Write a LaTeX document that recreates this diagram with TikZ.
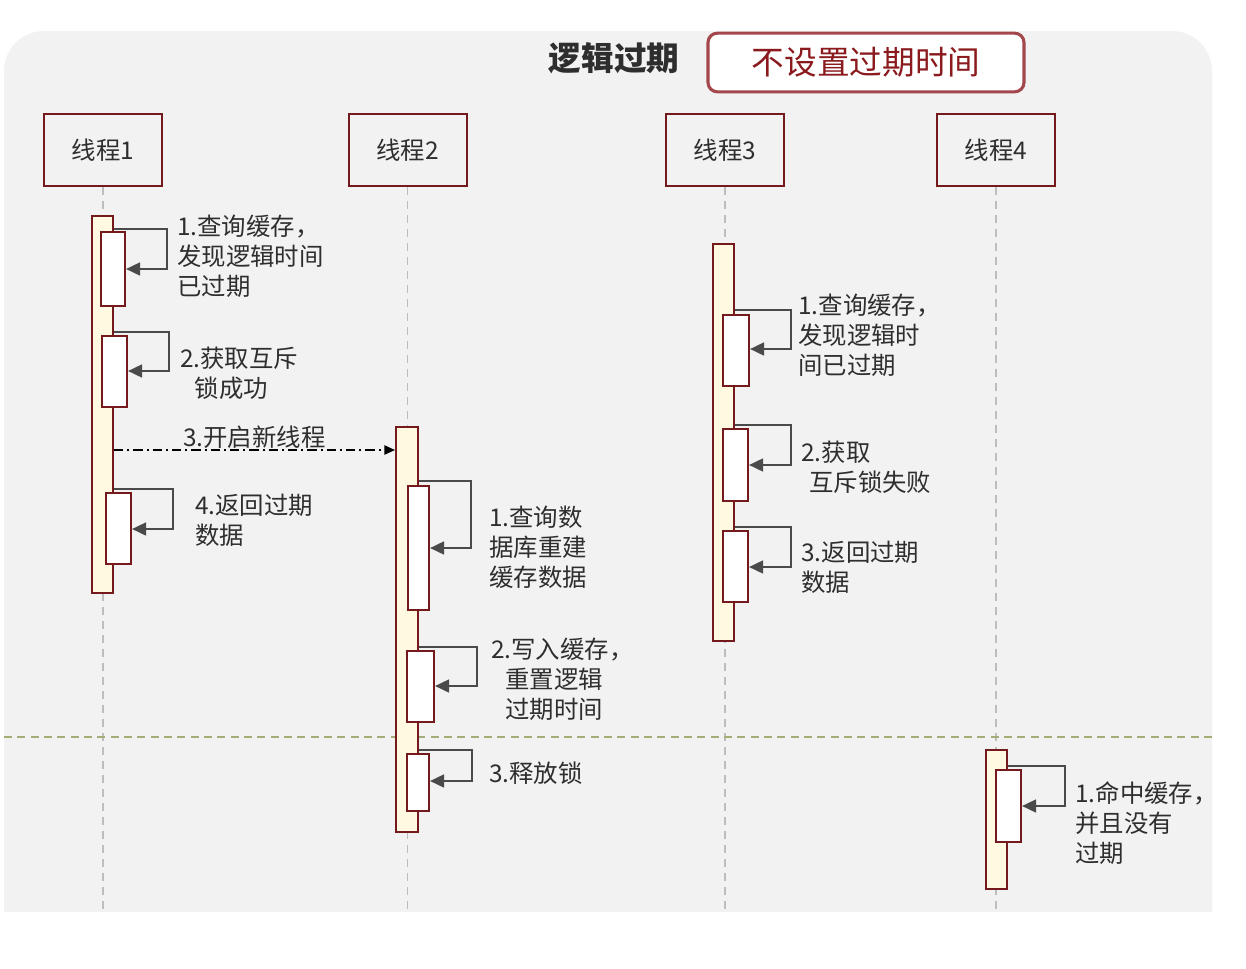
\documentclass[tikz,border=0pt]{standalone}
\usepackage{fontspec}
\setmainfont{Noto Sans CJK SC}
\usepackage{xcolor}
\usetikzlibrary{positioning,arrows.meta,fit,backgrounds}
\definecolor{bggray}{HTML}{F2F2F2}
\definecolor{darkred}{HTML}{74191C}
\definecolor{tagred}{HTML}{A3474D}
\definecolor{tagtext}{HTML}{8A1A1D}
\definecolor{barfill}{HTML}{FFF9E2}
\definecolor{callgray}{HTML}{4A4A4A}
\definecolor{lifegray}{HTML}{BDBDBD}
\definecolor{splitgreen}{HTML}{A2AD78}
\definecolor{inkgray}{HTML}{2E2E2E}
\tikzset{%
thread/.style={draw=darkred,line width=1.5pt,minimum width=88.5pt,minimum height=54pt,inner sep=0,font=\fontsize{18.3}{22}\selectfont,text=inkgray},
lifeline/.style={draw=lifegray,line width=1.1pt,dash pattern=on 6pt off 4.5pt},
bar/.style={draw=darkred,fill=barfill,line width=1.5pt,inner sep=0},
callbox/.style={draw=darkred,fill=white,line width=1.5pt,inner sep=0},
selfcall/.style={draw=callgray,line width=1.9pt,-{Triangle[length=10.5pt,width=9.5pt]}},
spawn/.style={draw=black,line width=1.1pt,dash pattern=on 7pt off 3pt on 1.5pt off 3pt,-{Triangle[length=8pt,width=7pt]}},
split/.style={draw=splitgreen,line width=1.1pt,dash pattern=on 6pt off 4pt},
note/.style={font=\fontsize{18.3}{22.5}\selectfont,text=inkgray,align=left,inner sep=0,anchor=base west}
}
\begin{document}
\begin{tikzpicture}[x=0.75pt,y=-0.75pt]
  \useasboundingbox (0,0) rectangle (1246,968);
  \fill[bggray,rounded corners=30pt] (4,31) rectangle (1212,960);
  \fill[white] (0,912) rectangle (1246,968);

  % title
  \node[font=\fontsize{24.5}{28}\selectfont\bfseries,text=inkgray] (title) at (614,58) {逻辑过期};
  \node[draw=tagred,line width=2.3pt,rounded corners=7pt,fill=white,minimum width=237pt,minimum height=44pt,
        font=\fontsize{24.5}{28}\selectfont,text=tagtext] (tag) at (866,62.5) {不设置过期时间};

  % threads
  \node[thread] (t1) at (103,150) {线程1};
  \node[thread] (t2) at (407.5,150) {线程2};
  \node[thread] (t3) at (725,150) {线程3};
  \node[thread] (t4) at (996,150) {线程4};
  \foreach \t in {t1,t2,t3,t4}
    \draw[lifeline] (\t.south) -- (\t.south |- 0,912);

  \draw[split] (4,737) -- (1212,737);

  % activation bars
  \node[bar,fit={(92,216) (113,593)}] (bar1) {};
  \node[bar,fit={(396,427) (418,832)}] (bar2) {};
  \node[bar,fit={(713,244) (734,641)}] (bar3) {};
  \node[bar,fit={(986,750) (1007,889)}] (bar4) {};

  \node[callbox,fit={(101,232) (125,306)}] (c1a) {};
  \node[callbox,fit={(102,336) (127,407)}] (c1b) {};
  \node[callbox,fit={(106,493) (131,564)}] (c1c) {};
  \node[callbox,fit={(408,486) (429,610)}] (c2a) {};
  \node[callbox,fit={(407,651) (434,722)}] (c2b) {};
  \node[callbox,fit={(407,754) (429,811)}] (c2c) {};
  \node[callbox,fit={(723,315) (749,386)}] (c3a) {};
  \node[callbox,fit={(723,429) (748,501)}] (c3b) {};
  \node[callbox,fit={(723,531) (748,602)}] (c3c) {};
  \node[callbox,fit={(996,770) (1021,842)}] (c4a) {};

  % self calls
  \draw[selfcall] (bar1.east |- 0,229) -| (167,269) -- (c1a.east |- 0,269);
  \draw[selfcall] (bar1.east |- 0,332) -| (169,371) -- (c1b.east |- 0,371);
  \draw[selfcall] (bar1.east |- 0,489) -| (173,529) -- (c1c.east |- 0,529);
  \draw[selfcall] (bar2.east |- 0,481) -| (471,548) -- (c2a.east |- 0,548);
  \draw[selfcall] (bar2.east |- 0,647) -| (477,686) -- (c2b.east |- 0,686);
  \draw[selfcall] (bar2.east |- 0,750) -| (472,781) -- (c2c.east |- 0,781);
  \draw[selfcall] (bar3.east |- 0,310) -| (791,349) -- (c3a.east |- 0,349);
  \draw[selfcall] (bar3.east |- 0,425) -| (791,465) -- (c3b.east |- 0,465);
  \draw[selfcall] (bar3.east |- 0,527) -| (791,567) -- (c3c.east |- 0,567);
  \draw[selfcall] (bar4.east |- 0,766) -| (1065,806) -- (c4a.east |- 0,806);

  % new thread
  \draw[spawn] (bar1.east |- 0,450) -- (bar2.west |- 0,450);
  \node[note] (m1) at (183,446) {3.开启新线程};

  % notes (anchored at the last line)
  \node[note] (n1a) at (177,295) {1.查询缓存，\\发现逻辑时间\\已过期};
  \node[note] (n1b) at (180,397) {2.获取互斥\\\hspace*{11pt}锁成功};
  \node[note] (n1c) at (195,544) {4.返回过期\\数据};
  \node[note] (n2a) at (489,586) {1.查询数\\据库重建\\缓存数据};
  \node[note] (n2b) at (491,718) {2.写入缓存，\\\hspace*{10.5pt}重置逻辑\\\hspace*{10.5pt}过期时间};
  \node[note] (n2c) at (489,782) {3.释放锁};
  \node[note] (n3a) at (798,374) {1.查询缓存，\\发现逻辑时\\间已过期};
  \node[note] (n3b) at (801,491) {2.获取\\\hspace*{6pt}互斥锁失败};
  \node[note] (n3c) at (801,591) {3.返回过期\\数据};
  \node[note] (n4a) at (1075,862) {1.命中缓存，\\并且没有\\过期};
\end{tikzpicture}
\end{document}
